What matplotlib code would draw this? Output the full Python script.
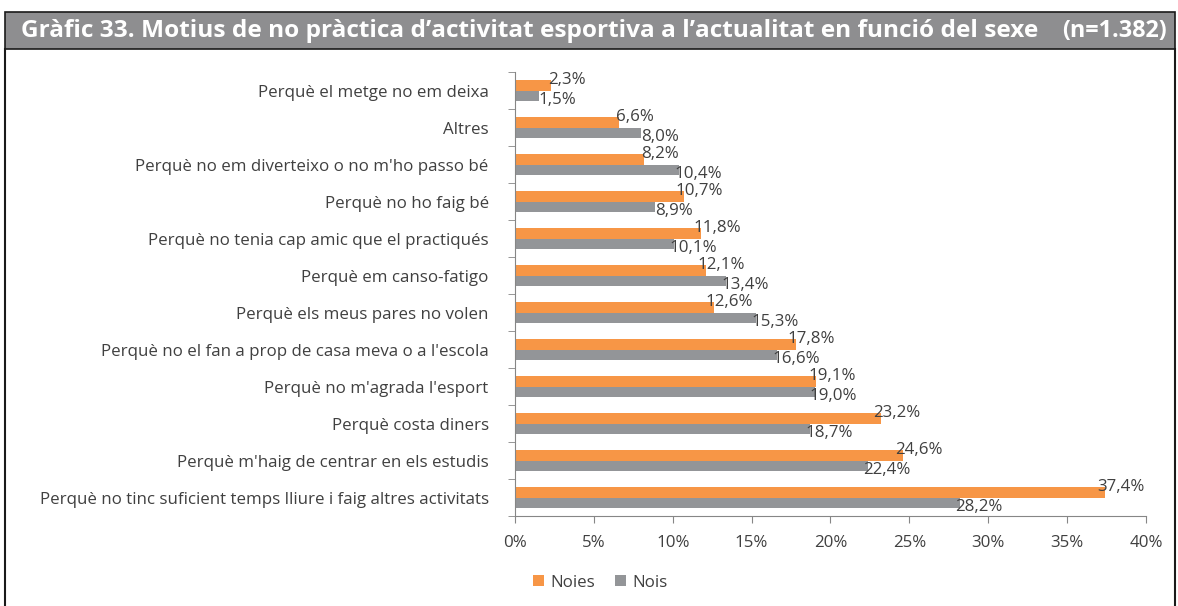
"""Motius de no pràctica d'activitat esportiva, per sexe (barres horitzontals)."""

import matplotlib
matplotlib.use("Agg")
import matplotlib.pyplot as plt
import numpy as np
from matplotlib.patches import Rectangle
from matplotlib.lines import Line2D

categories = [
    "Perquè el metge no em deixa",
    "Altres",
    "Perquè no em diverteixo o no m'ho passo bé",
    "Perquè no ho faig bé",
    "Perquè no tenia cap amic que el practiqués",
    "Perquè em canso-fatigo",
    "Perquè els meus pares no volen",
    "Perquè no el fan a prop de casa meva o a l'escola",
    "Perquè no m'agrada l'esport",
    "Perquè costa diners",
    "Perquè m'haig de centrar en els estudis",
    "Perquè no tinc suficient temps lliure i faig altres activitats",
]
noies = [2.3, 6.6, 8.2, 10.7, 11.8, 12.1, 12.6, 17.8, 19.1, 23.2, 24.6, 37.4]
nois = [1.5, 8.0, 10.4, 8.9, 10.1, 13.4, 15.3, 16.6, 19.0, 18.7, 22.4, 28.2]
x_ticks = [0, 5, 10, 15, 20, 25, 30, 35, 40]

ORANGE = "#F79646"
GRAY = "#939598"
TEXT = "#404040"
AXIS = "#868686"
FS = 12.2

plt.rcParams["font.family"] = ["Open Sans", "DejaVu Sans"]

fig = plt.figure(figsize=(11.78, 6.06), dpi=100)
ax = fig.add_axes([0.4372, 0.1485, 0.5356, 0.7325])

y = np.arange(len(categories))
h = 0.29
ax.barh(y - h / 2, noies, height=h, color=ORANGE, label="Noies")
ax.barh(y + h / 2, nois, height=h, color=GRAY, label="Nois")

# labels sit roughly on the bar ends, nudged outward like the Excel original
for yi, v in zip(y, noies):
    ax.text(v + 1.0, yi - h / 2 - 0.14, f"{v:.1f}%".replace(".", ","), ha="center",
            va="center", fontsize=FS, color=TEXT)
for yi, v in zip(y, nois):
    ax.text(v + 1.2, yi + h / 2 + 0.12, f"{v:.1f}%".replace(".", ","), ha="center",
            va="center", fontsize=FS, color=TEXT)

ax.set_ylim(len(categories) - 0.5, -0.5)
ax.set_xlim(0, 40)
ax.set_yticks(y)
ax.set_yticklabels(categories, fontsize=FS, color=TEXT)
ax.set_yticks(np.arange(len(categories) + 1) - 0.5, minor=True)
ax.tick_params(axis="y", which="major", length=0, pad=19)
ax.tick_params(axis="y", which="minor", length=5, color=AXIS, direction="out")
ax.set_xticks(x_ticks)
ax.set_xticklabels([f"{t}%" for t in x_ticks], fontsize=FS, color=TEXT)
ax.tick_params(axis="x", length=5, color=AXIS, pad=9)

for side in ("top", "right"):
    ax.spines[side].set_visible(False)
for side in ("left", "bottom"):
    ax.spines[side].set_color(AXIS)

ax.legend(loc="upper center", bbox_to_anchor=(0.135, -0.098), ncol=2, frameon=False,
          fontsize=FS, handlelength=0.65, handleheight=0.65, handletextpad=0.35,
          columnspacing=1.2, labelcolor=TEXT)

# title bar and frame
W, H = 1178, 606
def fx(px):
    return px / W
def fy(py):
    return 1 - py / H

fig.patches.append(Rectangle((fx(5), fy(49)), fx(1175) - fx(5), fy(12) - fy(49),
                             transform=fig.transFigure, facecolor="#8E8E90",
                             edgecolor="#1a1a1a", linewidth=1.2, zorder=0))
fig.lines.append(Line2D([fx(5), fx(5)], [fy(49), 0], transform=fig.transFigure,
                        color="#1a1a1a", linewidth=1.5))
fig.lines.append(Line2D([fx(1175), fx(1175)], [fy(49), 0], transform=fig.transFigure,
                        color="#1a1a1a", linewidth=1.5))
fig.text(fx(21), fy(31), "Gràfic 33. Motius de no pràctica d’activitat esportiva a l’actualitat en funció del sexe",
         color="white", fontsize=17.6, fontweight="bold", va="center", ha="left")
fig.text(fx(1167), fy(31), "(n=1.382)", color="white", fontsize=16.8,
         fontweight="bold", va="center", ha="right")

fig.savefig("out.png", dpi=100)
